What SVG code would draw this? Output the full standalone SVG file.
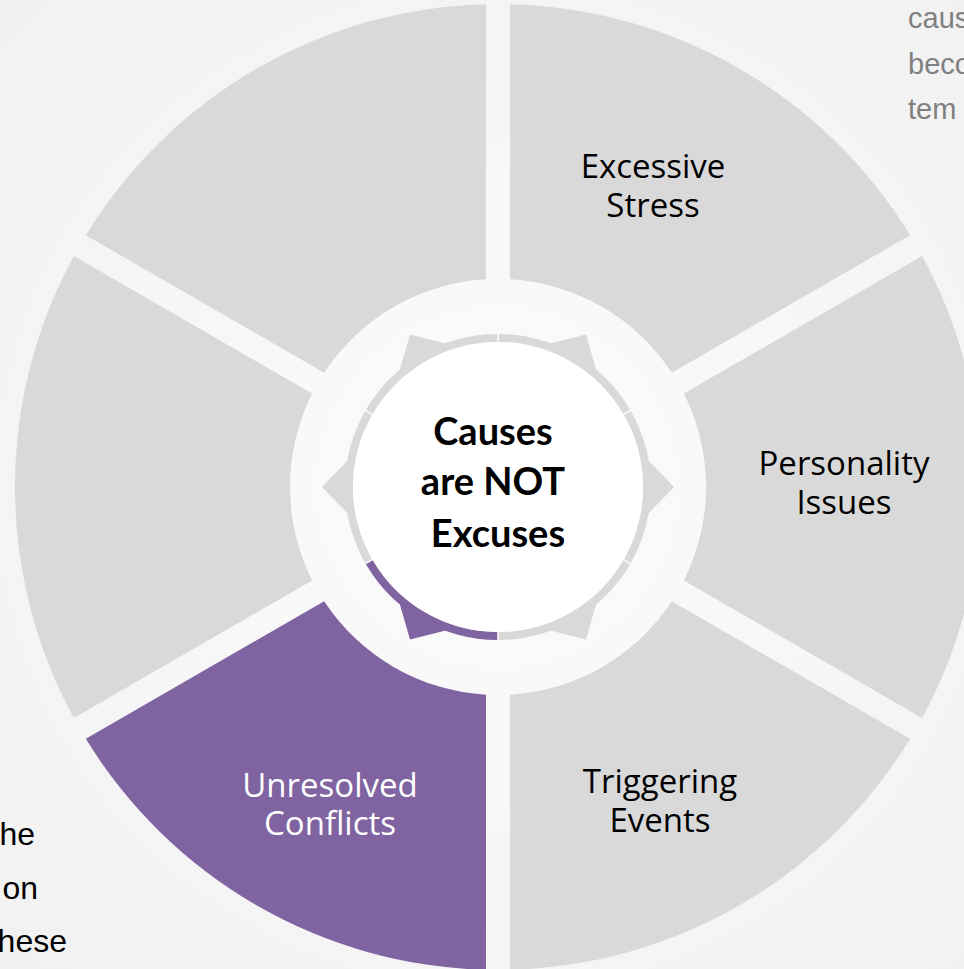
<svg xmlns="http://www.w3.org/2000/svg" width="964" height="969" viewBox="0 0 964 969">
<defs>
<radialGradient id="bg" cx="498" cy="487" r="700" gradientUnits="userSpaceOnUse">
<stop offset="0" stop-color="#fcfcfc"/>
<stop offset="1" stop-color="#f1f1f1"/>
</radialGradient>
<path id="seg" d="M424.16,-231.03 A483,483 0 0 1 424.16,231.03 L185.83,93.44 A208,208 0 0 0 185.83,-93.44 Z"/>
<path id="arc" d="M129.43,-73.82 A149,149 0 0 1 129.43,73.82" fill="none" stroke-width="8"/>
<polygon id="tooth" points="176,0 148.23,28.81 148.23,-28.81"/>
</defs>
<style>
.gray{fill:#d9d9d9}
.purple{fill:#8064a2}
.lbl{font-family:"Open Sans","Noto Sans",sans-serif;font-size:33px;text-anchor:middle}
.ctr{font-family:Lato,"Open Sans",sans-serif;font-size:38px;font-weight:bold;text-anchor:middle;fill:#000}
.side{font-family:"Liberation Sans",Arial,sans-serif}
</style>
<rect width="964" height="969" fill="url(#bg)"/>

<g id="nodes" transform="translate(498,487)">
<g id="personality-issues"><use href="#seg" class="gray"/></g>
<g id="triggering-events"><use href="#seg" class="gray" transform="rotate(60)"/></g>
<g id="unresolved-conflicts"><use href="#seg" class="purple" transform="rotate(120)"/></g>
<g id="left-blank"><use href="#seg" class="gray" transform="rotate(180)"/></g>
<g id="top-left-blank"><use href="#seg" class="gray" transform="rotate(240)"/></g>
<g id="excessive-stress"><use href="#seg" class="gray" transform="rotate(300)"/></g>
</g>

<g id="connectors" transform="translate(498,487)">
<g transform="rotate(0)"><use href="#tooth" fill="#d9d9d9"/><use href="#arc" stroke="#d9d9d9"/></g>
<g transform="rotate(60)"><use href="#tooth" fill="#d9d9d9"/><use href="#arc" stroke="#d9d9d9"/></g>
<g transform="rotate(180)"><use href="#tooth" fill="#d9d9d9"/><use href="#arc" stroke="#d9d9d9"/></g>
<g transform="rotate(240)"><use href="#tooth" fill="#d9d9d9"/><use href="#arc" stroke="#d9d9d9"/></g>
<g transform="rotate(300)"><use href="#tooth" fill="#d9d9d9"/><use href="#arc" stroke="#d9d9d9"/></g>
<g transform="rotate(120)"><use href="#tooth" fill="#8064a2"/><use href="#arc" stroke="#8064a2"/></g>
</g>

<g id="center">
<circle cx="498" cy="487" r="145" fill="#ffffff"/>
<text class="ctr" x="493" y="445">Causes</text>
<text class="ctr" x="493" y="495">are NOT</text>
<text class="ctr" x="498" y="547">Excuses</text>
</g>

<g id="labels">
<text class="lbl" x="653" y="178" fill="#000">Excessive</text>
<text class="lbl" x="653" y="217" fill="#000">Stress</text>
<text class="lbl" x="844" y="475" fill="#000">Personality</text>
<text class="lbl" x="844" y="514" fill="#000">Issues</text>
<text class="lbl" x="660" y="793" fill="#000">Triggering</text>
<text class="lbl" x="660" y="832" fill="#000">Events</text>
<text class="lbl" x="330" y="797" fill="#ffffff">Unresolved</text>
<text class="lbl" x="330" y="835" fill="#ffffff">Conflicts</text>
</g>

<g id="side-text" class="side">
<text x="908" y="28" font-size="29" fill="#808080">caus</text>
<text x="908" y="74" font-size="29" fill="#808080">beco</text>
<text x="908" y="119" font-size="29" fill="#808080">tem</text>
<text x="35" y="845" font-size="32" fill="#000" text-anchor="end">he</text>
<text x="38" y="899" font-size="32" fill="#000" text-anchor="end">on</text>
<text x="67" y="952" font-size="32" fill="#000" text-anchor="end">hese</text>
</g>
</svg>
